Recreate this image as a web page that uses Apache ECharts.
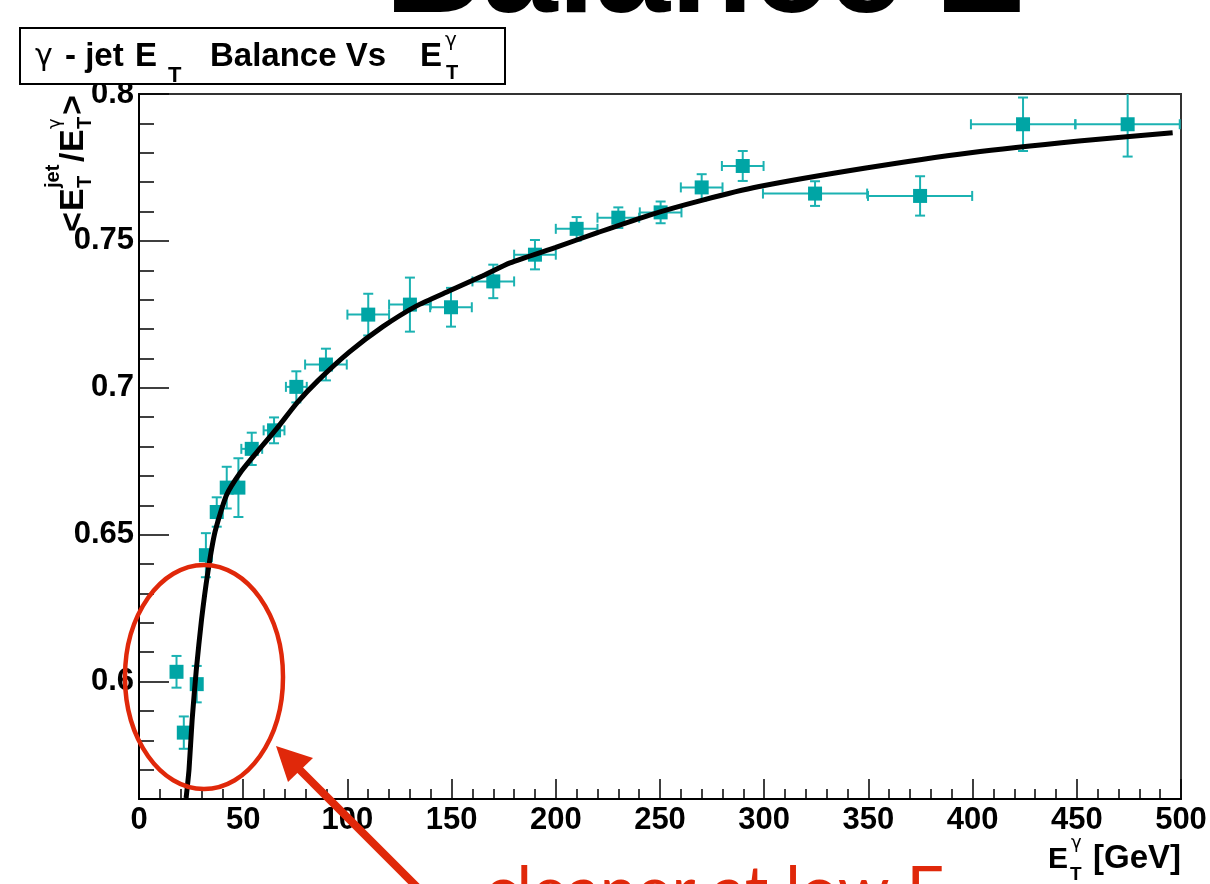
<!DOCTYPE html>
<html>
<head>
	<title>gamma - jet ET balance</title>
	<meta charset="utf-8" />
	<script type="text/javascript" src="https://cdn.jsdelivr.net/npm/echarts@6/dist/echarts.min.js"></script>
	<style type="text/css">
		html, body { margin: 0; padding: 0; background: #fff; }
		#container { width: 1210px; height: 884px; }
	</style>
</head>
<body>
<div id="container"></div>
<script type="text/javascript">
	// measured points: E_T(gamma), <ET jet / ET gamma>, and their errors
	var ptX = [18, 21.5, 27.7, 32.1, 37.3, 42.1, 47.7, 54.1, 64.8, 75.5, 89.7, 110, 130, 149.7, 170, 190, 210, 230, 250.3, 270, 289.7, 324.4, 374.8, 424.2, 474.4];
	var ptY = [0.6033, 0.5826, 0.5991, 0.643, 0.6577, 0.666, 0.666, 0.6792, 0.6855, 0.7003, 0.7079, 0.7249, 0.7283, 0.7274, 0.7362, 0.7453, 0.7541, 0.7579, 0.7597, 0.7682, 0.7755, 0.7661, 0.7653, 0.7897, 0.7897];
	var ptXErr = [2.5, 2.5, 2.5, 2.5, 2.5, 2.5, 2.5, 5, 5, 5, 10, 10, 10, 10, 10, 10, 10, 10, 10, 10, 10, 25, 25, 25, 25];
	var ptYErr = [0.0054, 0.0055, 0.0062, 0.0075, 0.005, 0.0071, 0.010, 0.0055, 0.0044, 0.0053, 0.0054, 0.0071, 0.0092, 0.0066, 0.0057, 0.005, 0.004, 0.0035, 0.0037, 0.0045, 0.0051, 0.0042, 0.0067, 0.0091, 0.011];

	// fitted curve
	var fitX = [22.6, 24.0, 25.5, 27.5, 30.0, 33.0, 36.5, 42.0, 48.5, 56.5, 66.0, 76.0, 86.0, 101, 117, 133, 149, 165, 178, 200, 220, 245, 270, 297, 348, 399, 451, 496];
	var fitY = [0.5603, 0.5700, 0.5870, 0.6040, 0.6210, 0.6370, 0.6510, 0.6635, 0.6710, 0.6780, 0.6860, 0.6950, 0.7025, 0.7122, 0.7208, 0.7278, 0.7330, 0.7381, 0.7425, 0.7478, 0.7528, 0.7588, 0.7638, 0.7684, 0.7747, 0.7800, 0.7840, 0.7868];

	// y axis ticks
	var yMajor = [0.6, 0.65, 0.7, 0.75, 0.8];
	var yMinor = [0.57, 0.58, 0.59, 0.61, 0.62, 0.63, 0.64, 0.66, 0.67, 0.68, 0.69, 0.71, 0.72, 0.73, 0.74, 0.76, 0.77, 0.78, 0.79];

	var FONT = 'Liberation Sans';
	var markColor = '#00a5a5';
	var errColor = '#1bb2b2';
	var red = '#e0280a';

	var chart = echarts.init(document.getElementById('container'));

	var errData = [], ptData = [], fitData = [];
	for (var i = 0; i < ptX.length; i++) {
		errData.push([ptX[i], ptY[i], ptXErr[i], ptYErr[i]]);
		ptData.push([ptX[i], ptY[i]]);
	}
	for (var j = 0; j < fitX.length; j++) {
		fitData.push([fitX[j], fitY[j]]);
	}

	function renderErr(params, api) {
		var x = api.value(0), y = api.value(1), ex = api.value(2), ey = api.value(3);
		var l = api.coord([x - ex, y]), r = api.coord([x + ex, y]);
		var t = api.coord([x, y + ey]), b = api.coord([x, y - ey]);
		var st = { stroke: errColor, lineWidth: 2 };
		var c = 5;
		function ln(x1, y1, x2, y2) {
			return { type: 'line', shape: { x1: x1, y1: y1, x2: x2, y2: y2 }, style: st };
		}
		return {
			type: 'group',
			children: [
				ln(l[0], l[1], r[0], r[1]),
				ln(l[0], l[1] - c, l[0], l[1] + c),
				ln(r[0], r[1] - c, r[0], r[1] + c),
				ln(t[0], t[1], b[0], b[1]),
				ln(t[0] - c, t[1], t[0] + c, t[1]),
				ln(b[0] - c, b[1], b[0] + c, b[1])
			]
		};
	}

	// text placed by its baseline
	function txt(x, base, str, size, opt) {
		opt = opt || {};
		return {
			type: 'text',
			x: x,
			y: base - 0.35 * size,
			silent: true,
			z: opt.z || 50,
			style: {
				text: str,
				fontSize: size,
				fontFamily: opt.family || FONT,
				fontWeight: opt.weight || 'bold',
				fill: opt.color || '#000',
				align: opt.align || 'left',
				verticalAlign: 'middle'
			}
		};
	}
	var greek = { family: 'DejaVu Sans', weight: 'normal' };

	var graphics = [
		// big slide heading, cut by the top edge
		txt(385, 22, 'Balance', 135),
		txt(935, 22, 'E', 135),

		// title box
		{ type: 'rect', shape: { x: 20, y: 28, width: 485, height: 56 }, style: { fill: '#fff', stroke: '#000', lineWidth: 2 }, z: 1, silent: true },
		txt(35, 68, '\u03b3', 30, greek),
		txt(65, 68, '- jet', 33),
		txt(135, 68, 'E', 33),
		txt(168, 84, 'T', 22),
		txt(210, 68, 'Balance Vs', 33),
		txt(420, 68, 'E', 33),
		txt(445, 48, '\u03b3', 20, greek),
		txt(446, 80, 'T', 20),

		// y axis title, rotated
		{
			type: 'group', x: 86, y: 232, rotation: Math.PI / 2, silent: true,
			children: [
				txt(0, 0, '<', 34),
				txt(21, 0, 'E', 34),
				txt(44, -26, 'jet', 20),
				txt(44, 6, 'T', 20),
				txt(70, 0, '/', 34),
				txt(80, 0, 'E', 34),
				txt(103, -24, '\u03b3', 18, greek),
				txt(103, 6, 'T', 20),
				txt(117, 0, '>', 34)
			]
		},

		// x axis title
		txt(1048, 870, 'E', 30),
		txt(1071, 850, '\u03b3', 18, greek),
		txt(1070, 881, 'T', 19),
		txt(1181, 870, '[GeV]', 33, { align: 'right' }),

		// annotation
		{ type: 'ellipse', shape: { cx: 204, cy: 677, rx: 79, ry: 112 }, style: { fill: 'none', stroke: red, lineWidth: 4.5 }, z: 60, silent: true },
		{ type: 'line', shape: { x1: 296, y1: 766, x2: 425, y2: 895 }, style: { stroke: red, lineWidth: 8 }, z: 60, silent: true },
		{ type: 'polygon', shape: { points: [[276, 746], [313, 758], [288, 782]] }, style: { fill: red }, z: 60, silent: true },
		txt(485, 915, 'cleaner at low E', 66, { family: 'Lato', weight: 'normal', color: red })
	];

	var options = {
		animation: false,
		backgroundColor: '#fff',
		grid: {
			left: 139, top: 94, width: 1042, height: 705,
			show: true, borderColor: '#333', borderWidth: 2, backgroundColor: 'transparent'
		},
		xAxis: {
			type: 'value', min: 0, max: 500, interval: 50,
			axisLine: { lineStyle: { color: '#000', width: 2 } },
			axisTick: { inside: true, length: 20, lineStyle: { color: '#000', width: 1.5 } },
			minorTick: { show: true, splitNumber: 5, length: 10, lineStyle: { color: '#000', width: 1.5 } },
			splitLine: { show: false },
			axisLabel: { margin: 6, fontSize: 31, fontWeight: 'bold', fontFamily: FONT, color: '#000' }
		},
		yAxis: [
			{
				type: 'value', min: 0.56, max: 0.8,
				axisLine: { show: true, lineStyle: { color: '#000', width: 2 } },
				axisTick: { show: true, inside: true, length: 30, customValues: yMajor, lineStyle: { color: '#000', width: 1.5 } },
				splitLine: { show: false },
				axisLabel: {
					margin: 5, fontSize: 31, fontWeight: 'bold', fontFamily: FONT, color: '#000',
					customValues: yMajor,
					formatter: function (v) { return String(+v.toFixed(2)); }
				}
			},
			{
				type: 'value', min: 0.56, max: 0.8, position: 'left', offset: 0,
				axisLine: { show: false },
				axisTick: { show: true, inside: true, length: 15, customValues: yMinor, lineStyle: { color: '#000', width: 1.5 } },
				axisLabel: { show: false },
				splitLine: { show: false }
			}
		],
		series: [
			{
				type: 'custom', name: 'errors', renderItem: renderErr, data: errData,
				encode: { x: 0, y: 1 }, clip: true, z: 2, silent: true
			},
			{
				type: 'scatter', name: 'points', data: ptData, symbol: 'rect', symbolSize: 14,
				itemStyle: { color: markColor, opacity: 1 }, z: 3, silent: true
			},
			{
				type: 'line', name: 'fit', data: fitData, showSymbol: false, smooth: 0.2,
				lineStyle: { color: '#000', width: 5 }, clip: true, z: 4, silent: true
			}
		],
		graphic: graphics
	};

	chart.setOption(options);
</script>
</body>
</html>
